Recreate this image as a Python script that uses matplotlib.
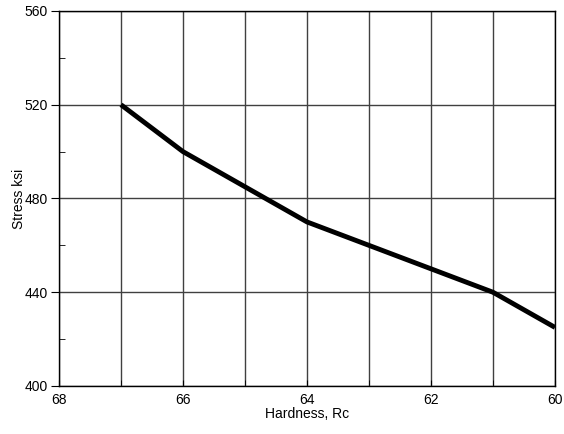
import matplotlib
matplotlib.use("Agg")
import matplotlib.pyplot as plt
from matplotlib.ticker import MultipleLocator

plt.rcParams["font.family"] = ["Liberation Sans", "DejaVu Sans"]

# hardness (Rc) vs stress (ksi)
hardness = [67, 66, 65, 64, 63, 62, 61, 60]
stress = [520, 500, 485, 470, 460, 450, 440, 425]

fig = plt.figure(figsize=(5.64, 4.34), dpi=100)
ax = fig.add_axes([0.1046, 0.1106, 0.8794, 0.8641])

ax.plot(hardness, stress, color="black", linewidth=3.5, solid_capstyle="butt", zorder=3)

ax.set_xlim(68, 60)
ax.set_ylim(400, 560)
ax.xaxis.set_major_locator(MultipleLocator(2))
ax.xaxis.set_minor_locator(MultipleLocator(1))
ax.yaxis.set_major_locator(MultipleLocator(40))
ax.yaxis.set_minor_locator(MultipleLocator(20))

ax.grid(True, which="major", axis="y", color="#404040", linewidth=1)
ax.grid(True, which="both", axis="x", color="#404040", linewidth=1)

ax.tick_params(axis="y", which="major", direction="out", length=6, pad=2, labelsize=10)
ax.tick_params(axis="y", which="minor", direction="in", length=4)
ax.tick_params(axis="x", which="both", direction="in", length=4, pad=5, labelsize=10)

for s in ax.spines.values():
    s.set_linewidth(1)
    s.set_color("black")

ax.set_xlabel("Hardness, Rc", fontsize=10, labelpad=0)
ax.set_ylabel("Stress ksi", fontsize=10, labelpad=-1)

fig.savefig("out.png", dpi=100)
